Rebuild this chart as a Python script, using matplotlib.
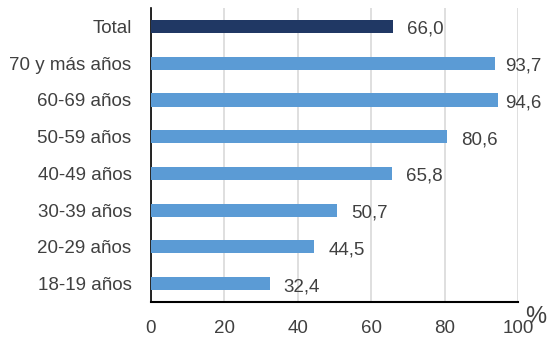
import matplotlib
matplotlib.use("Agg")
import matplotlib.pyplot as plt
import numpy as np

plt.rcParams['font.family'] = ['Liberation Sans', 'DejaVu Sans']

categories = ["Total", "70 y más años", "60-69 años", "50-59 años",
              "40-49 años", "30-39 años", "20-29 años", "18-19 años"]
values = [66.0, 93.7, 94.6, 80.6, 65.8, 50.7, 44.5, 32.4]
x_ticks = [0, 20, 40, 60, 80, 100]

dark = "#203864"
light = "#5B9BD5"
text_color = "#404040"

fig = plt.figure(figsize=(5.47, 3.37), dpi=100)
ax = fig.add_axes([0.276, 0.104, 0.671, 0.872])

y = np.arange(len(categories))[::-1]
colors = [dark] + [light] * (len(categories) - 1)
ax.barh(y, values, height=0.36, color=colors, zorder=3)

# labels sit outside the bar end, but get pushed back inside the chart area
label_limit = 106.3
for yi, v in zip(y, values):
    pos = v + 3.8
    if pos + 10.5 > label_limit:
        xpos, ha = label_limit, "right"
    else:
        xpos, ha = pos, "left"
    ax.text(xpos, yi - 0.08, f"{v:.1f}".replace(".", ","), va="center", ha=ha,
            fontsize=13.5, color=text_color, clip_on=False, zorder=4)

ax.set_xlim(0, 100)
ax.set_ylim(-0.5, len(categories) - 0.5)
ax.set_xticks(x_ticks)
ax.set_xticklabels([str(t) for t in x_ticks], fontsize=13.5, color=text_color)
ax.set_yticks(y)
ax.set_yticklabels(categories, fontsize=13.5, color=text_color)
ax.tick_params(axis="x", length=0, pad=13)
ax.tick_params(axis="y", length=0, pad=14)
ax.grid(axis="x", color="#D9D9D9", linewidth=1.2, zorder=0)
for s in ["top", "right"]:
    ax.spines[s].set_visible(False)
ax.spines["left"].set_color("black")
ax.spines["bottom"].set_color("black")
ax.spines["left"].set_linewidth(1.2)
ax.spines["bottom"].set_linewidth(1.5)

fig.text(0.998, 0.027, "%", fontsize=17, color=text_color, ha="right", va="bottom")

fig.savefig("out.png", dpi=100)
